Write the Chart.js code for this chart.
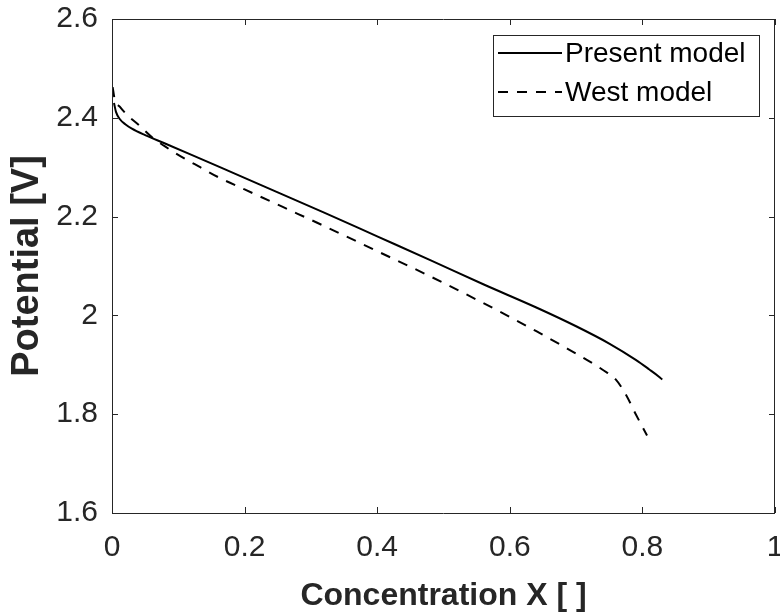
<!DOCTYPE html>
<html>
<head>
<meta charset="utf-8">
<script src="https://cdn.jsdelivr.net/npm/chart.js@4.4.1/dist/chart.umd.min.js"></script>
<style>
  html, body { margin: 0; padding: 0; background: #ffffff; }
  canvas { display: block; }
</style>
</head>
<body>
<canvas id="c" width="780" height="613"></canvas>
<script>
// ---- Data ----
const seriesNames = ['Present model', 'West model'];

const presentX = [0.003, 0.006, 0.012, 0.02, 0.03, 0.05, 0.08, 0.12, 0.18, 0.25, 0.32, 0.40, 0.48, 0.56, 0.64, 0.70, 0.75, 0.79, 0.81, 0.825, 0.83];
const presentY = [2.430, 2.412, 2.397, 2.387, 2.378, 2.365, 2.348, 2.325, 2.290, 2.249, 2.208, 2.160, 2.112, 2.063, 2.016, 1.978, 1.943, 1.910, 1.891, 1.876, 1.870];

const westX = [0.001, 0.004, 0.012, 0.025, 0.04, 0.06, 0.08, 0.105, 0.133, 0.16, 0.20, 0.26, 0.32, 0.40, 0.48, 0.56, 0.60, 0.64, 0.68, 0.72, 0.74, 0.76, 0.775, 0.79, 0.807];
const westY = [2.462, 2.438, 2.422, 2.403, 2.386, 2.361, 2.342, 2.321, 2.300, 2.280, 2.255, 2.218, 2.181, 2.130, 2.079, 2.025, 1.997, 1.968, 1.938, 1.907, 1.890, 1.870, 1.840, 1.800, 1.757];

const xTickLabels = ['0', '0.2', '0.4', '0.6', '0.8', '1'];
const yTickLabels = ['1.6', '1.8', '2', '2.2', '2.4', '2.6'];
const xAxisTitle = 'Concentration X [ ]';
const yAxisTitle = 'Potential [V]';

// ---- Build datasets ----
const toPoints = (xs, ys) => xs.map((x, i) => ({ x: x, y: ys[i] }));

const AXIS_COLOR = '#262626';
const FONT = "'Liberation Sans', Arial, Helvetica, sans-serif";

const zeroPad = s => { s.paddingTop = 0; s.paddingBottom = 0; s.paddingLeft = 0; s.paddingRight = 0; };

// Frame with inward ticks on all four sides (MATLAB box style)
const framePlugin = {
  id: 'frame',
  afterDatasetsDraw(chart) {
    const { ctx, chartArea: a, scales } = chart;
    const tl = 6;
    ctx.save();
    ctx.strokeStyle = AXIS_COLOR;
    ctx.lineWidth = 1;
    ctx.beginPath();
    ctx.rect(a.left + 0.5, a.top + 0.5, a.right - a.left - 1, a.bottom - a.top);
    scales.x.ticks.forEach(t => {
      const px = Math.round(scales.x.getPixelForValue(t.value)) + 0.5;
      ctx.moveTo(px, a.bottom); ctx.lineTo(px, a.bottom - tl);
      ctx.moveTo(px, a.top); ctx.lineTo(px, a.top + tl);
    });
    scales.y.ticks.forEach(t => {
      const py = Math.round(scales.y.getPixelForValue(t.value)) + 0.5;
      ctx.moveTo(a.left, py); ctx.lineTo(a.left + tl, py);
      ctx.moveTo(a.right, py); ctx.lineTo(a.right - tl, py);
    });
    ctx.stroke();
    ctx.restore();
  }
};

// Legend box inside the plot area, top-right
const insideLegend = {
  id: 'insideLegend',
  afterDraw(chart) {
    const { ctx, chartArea: a } = chart;
    const w = 266, h = 81;
    const left = a.right - 16 - w;
    const top = a.top + 16;
    ctx.save();
    ctx.fillStyle = '#ffffff';
    ctx.fillRect(left, top, w, h);
    ctx.strokeStyle = AXIS_COLOR;
    ctx.lineWidth = 1;
    ctx.strokeRect(Math.round(left) + 0.5, Math.round(top) + 0.5, w, h);
    const rows = [top + 18, top + 57];
    chart.data.datasets.forEach((ds, i) => {
      const y = rows[i];
      ctx.beginPath();
      ctx.setLineDash(ds.borderDash || []);
      ctx.lineWidth = ds.borderWidth;
      ctx.strokeStyle = ds.borderColor;
      ctx.moveTo(left + 5, y);
      ctx.lineTo(left + 69, y);
      ctx.stroke();
      ctx.setLineDash([]);
      ctx.fillStyle = '#000000';
      ctx.font = "28px " + FONT;
      ctx.textBaseline = 'middle';
      ctx.textAlign = 'left';
      ctx.fillText(ds.label, left + 72, y + 1);
    });
    ctx.restore();
  }
};

new Chart(document.getElementById('c'), {
  type: 'line',
  data: {
    datasets: [
      {
        label: seriesNames[0],
        data: toPoints(presentX, presentY),
        borderColor: '#000000',
        borderWidth: 2,
        pointRadius: 0,
        fill: false,
        cubicInterpolationMode: 'monotone'
      },
      {
        label: seriesNames[1],
        data: toPoints(westX, westY),
        borderColor: '#000000',
        borderWidth: 2,
        borderDash: [10, 9],
        pointRadius: 0,
        fill: false,
        cubicInterpolationMode: 'monotone'
      }
    ]
  },
  options: {
    responsive: false,
    animation: false,
    layout: { padding: { top: 19, right: 5, left: 0, bottom: 0 } },
    scales: {
      x: {
        type: 'linear',
        min: 0,
        max: 1,
        grid: { display: false, drawTicks: false },
        border: { display: false },
        ticks: {
          stepSize: 0.2,
          padding: 17,
          color: AXIS_COLOR,
          font: { family: FONT, size: 30 },
          maxRotation: 0,
          callback: (v, i) => xTickLabels[i]
        },
        title: {
          display: true,
          text: xAxisTitle,
          color: AXIS_COLOR,
          font: { family: FONT, size: 32, weight: 'bold', lineHeight: 1 },
          padding: { top: 0, bottom: 1 }
        },
        afterFit: s => { s.height = 100; zeroPad(s); }
      },
      y: {
        type: 'linear',
        min: 1.6,
        max: 2.6,
        grid: { display: false, drawTicks: false },
        border: { display: false },
        ticks: {
          stepSize: 0.2,
          padding: 14,
          color: AXIS_COLOR,
          font: { family: FONT, size: 30 },
          callback: (v, i) => yTickLabels[i]
        },
        title: {
          display: true,
          text: yAxisTitle,
          color: AXIS_COLOR,
          font: { family: FONT, size: 38, weight: 'bold', lineHeight: 1 },
          padding: { top: 9, bottom: 0 }
        },
        afterFit: s => { s.width = 112; zeroPad(s); }
      }
    },
    plugins: {
      legend: { display: false },
      tooltip: { enabled: false }
    }
  },
  plugins: [framePlugin, insideLegend]
});
</script>
</body>
</html>
